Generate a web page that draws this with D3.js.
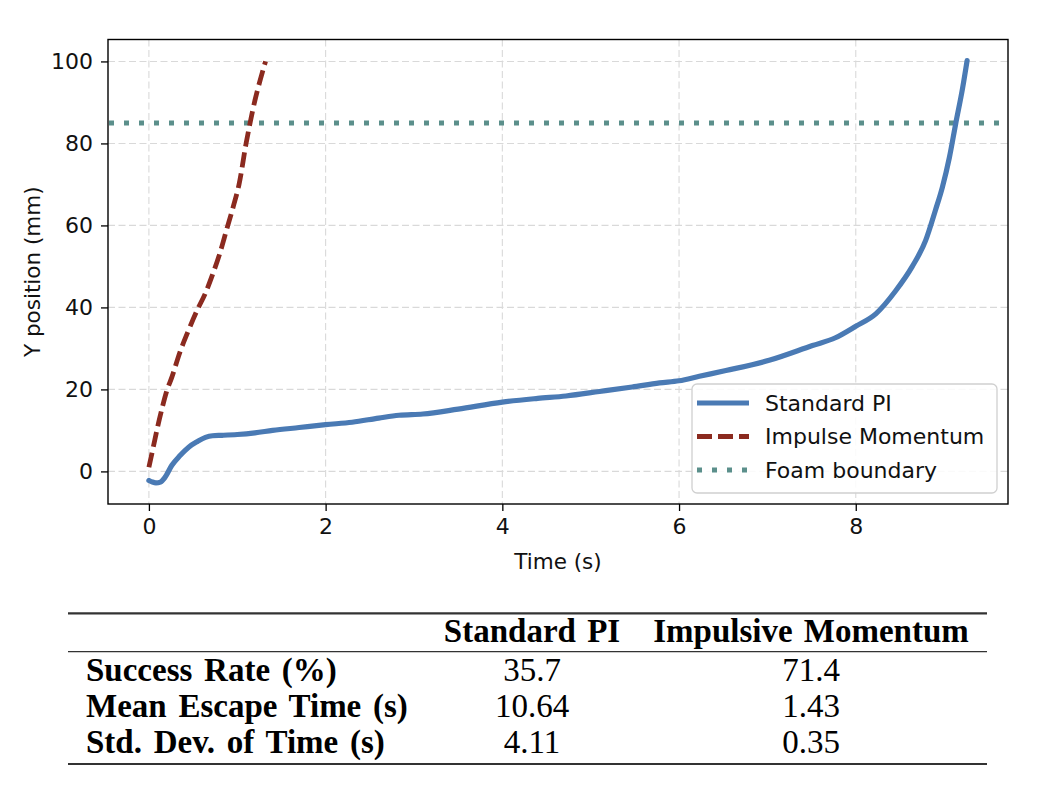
<!DOCTYPE html>
<html>
<head>
<meta charset="utf-8">
<script src="https://cdn.jsdelivr.net/npm/d3@7"></script>
<style>
  body { margin:0; background:#fff; }
</style>
</head>
<body>
<div id="chart"></div>
<script>
/*  Data  */
var stdTime = [0, 0.04, 0.08, 0.13, 0.18, 0.26, 0.35, 0.45, 0.55, 0.64, 0.72, 0.83, 1.0, 1.2, 1.4, 1.7, 2.0, 2.3, 2.6, 2.83, 3.1, 3.5, 4.0, 4.4, 4.72, 5.1, 5.47, 5.78, 6.0, 6.23, 6.53, 7.02, 7.51, 7.77, 8.0, 8.23, 8.45, 8.64, 8.79, 8.9, 8.98, 9.06, 9.13, 9.21, 9.26];
var stdY    = [-2.2, -2.6, -2.8, -2.6, -1.5, 1.5, 3.8, 5.9, 7.3, 8.3, 8.7, 8.8, 9.0, 9.4, 10.0, 10.7, 11.4, 12.0, 13.0, 13.7, 14.0, 15.2, 16.9, 17.8, 18.4, 19.5, 20.6, 21.6, 22.1, 23.2, 24.6, 27.1, 30.7, 32.6, 35.4, 38.5, 44.0, 50.0, 56.3, 63.6, 69.3, 76.6, 84.7, 93.6, 100.2];
var impTime = [0, 0.05, 0.1, 0.15, 0.2, 0.26, 0.35, 0.45, 0.55, 0.64, 0.72, 0.8, 0.88, 0.96, 1.02, 1.1, 1.15, 1.2, 1.26, 1.32];
var impY    = [1, 6, 11, 15.5, 19.5, 23, 29, 34.5, 39.5, 43.5, 48, 53, 59, 65, 70, 80, 85.5, 90.5, 95.5, 100];
var foamY = 85;
var xTicks = [0, 2, 4, 6, 8];
var yTicks = [0, 20, 40, 60, 80, 100];
var legendLabels = ["Standard PI", "Impulse Momentum", "Foam boundary"];

var tableHeader = ["", "Standard PI", "Impulsive Momentum"];
var tableRows = ["Success Rate (%)", "Mean Escape Time (s)", "Std. Dev. of Time (s)"];
var stdStats = ["35.7", "10.64", "4.11"];
var impStats = ["71.4", "1.43", "0.35"];

/*  Useful functions  */
var foreach = function(a, b){ for (var c = 0; c < a.length; c++) b(c, a[c]); };
var SVGElement = function(parent, elname, attributes){
  var el = parent.append(elname);
  for (var k in attributes) el.attr(k, attributes[k]);
  return el;
};

var W = 1046, H = 804;
var box = {left:108, right:1008, top:39.5, bottom:504};
var blue = "#4a7ab4", red = "#8b2a1f", teal = "#5b8f8b";
var sans = "DejaVu Sans, sans-serif";
var serif = "Liberation Serif, Times New Roman, serif";

var svg = d3.select("#chart").append("svg")
            .attr("xmlns", "http://www.w3.org/2000/svg")
            .attr("width", W).attr("height", H);

/*  Scales, matplotlib style 5% margins  */
var allX = stdTime.concat(impTime), allY = stdY.concat(impY);
var xe = d3.extent(allX), ye = d3.extent(allY);
var xm = (xe[1]-xe[0])*0.05, ym = (ye[1]-ye[0])*0.05;
var x = d3.scaleLinear().domain([xe[0]-xm, xe[1]+xm]).range([box.left, box.right]);
var y = d3.scaleLinear().domain([ye[0]-ym, ye[1]+ym]).range([box.bottom, box.top]);

SVGElement(svg, "clipPath", {id:"clip"}).append("rect")
  .attr("x", box.left).attr("y", box.top)
  .attr("width", box.right-box.left).attr("height", box.bottom-box.top);

/*  Grid  */
var grid = svg.append("g").attr("stroke", "#d9d9d9").attr("stroke-width", 1.1).attr("stroke-dasharray", "7,3.5");
foreach(xTicks, function(i, t){
  SVGElement(grid, "line", {x1:x(t), x2:x(t), y1:box.top, y2:box.bottom});
});
foreach(yTicks, function(i, t){
  SVGElement(grid, "line", {x1:box.left, x2:box.right, y1:y(t), y2:y(t)});
});

/*  Series  */
var plot = svg.append("g").attr("clip-path", "url(#clip)");
var line = d3.line().curve(d3.curveMonotoneX)
             .x(function(d){ return x(d[0]); }).y(function(d){ return y(d[1]); });

SVGElement(plot, "line", {x1:box.left+1, x2:box.right, y1:y(foamY), y2:y(foamY),
  stroke:teal, "stroke-width":5, "stroke-dasharray":"5,10"});

plot.append("path")
    .datum(d3.zip(stdTime, stdY))
    .attr("d", line).attr("fill", "none")
    .attr("stroke", blue).attr("stroke-width", 5.2)
    .attr("stroke-linejoin", "round").attr("stroke-linecap", "round");

plot.append("path")
    .datum(d3.zip(impTime, impY))
    .attr("d", line).attr("fill", "none")
    .attr("stroke", red).attr("stroke-width", 4.8)
    .attr("stroke-dasharray", "15,6");

/*  Axes  */
var xAxis = svg.append("g").attr("transform", "translate(0," + box.bottom + ")")
  .call(d3.axisBottom(x).tickValues(xTicks).tickFormat(d3.format("d")).tickSize(7).tickPadding(7));
var yAxis = svg.append("g").attr("transform", "translate(" + box.left + ",0)")
  .call(d3.axisLeft(y).tickValues(yTicks).tickFormat(d3.format("d")).tickSize(7).tickPadding(8));
foreach([xAxis, yAxis], function(i, a){
  a.select(".domain").remove();
  a.selectAll(".tick line").attr("stroke", "#000").attr("stroke-width", 1.3);
  a.selectAll(".tick text").attr("font-family", sans).attr("font-size", 22).attr("fill", "#111");
});

SVGElement(svg, "rect", {x:box.left, y:box.top, width:box.right-box.left, height:box.bottom-box.top,
  fill:"none", stroke:"#000", "stroke-width":1.4});

SVGElement(svg, "text", {x:(box.left+box.right)/2, y:569, "text-anchor":"middle",
  "font-family":sans, "font-size":21.5, fill:"#111"}).text("Time (s)");
SVGElement(svg, "text", {transform:"translate(40," + (box.top+box.bottom)/2 + ") rotate(-90)",
  "text-anchor":"middle", "font-family":sans, "font-size":21.5, fill:"#111"}).text("Y position (mm)");

/*  Legend  */
var lg = svg.append("g");
SVGElement(lg, "rect", {x:692, y:384, width:305, height:109, rx:5,
  fill:"#fff", "fill-opacity":0.85, stroke:"#d0d0d0", "stroke-width":1.3});
var legendStyles = [
  {stroke:blue, "stroke-width":5},
  {stroke:red, "stroke-width":4.8, "stroke-dasharray":"15,6"},
  {stroke:teal, "stroke-width":5, "stroke-dasharray":"5,10"}
];
foreach(legendLabels, function(i, lab){
  var ly = 403 + i*33.5;
  var st = legendStyles[i];
  st.x1 = 697; st.x2 = 749; st.y1 = ly; st.y2 = ly;
  SVGElement(lg, "line", st);
  SVGElement(lg, "text", {x:765, y:ly, dy:"0.36em", "font-family":sans, "font-size":22, fill:"#111"}).text(lab);
});

/*  Table  */
var tb = svg.append("g").attr("font-family", serif).attr("fill", "#000");
var tLeft = 68, tRight = 987;
var colX = [86, 532, 811];
SVGElement(tb, "line", {x1:tLeft, x2:tRight, y1:613.3, y2:613.3, stroke:"#333", "stroke-width":2.2});
SVGElement(tb, "line", {x1:tLeft, x2:tRight, y1:651.7, y2:651.7, stroke:"#333", "stroke-width":1.3});
SVGElement(tb, "line", {x1:tLeft, x2:tRight, y1:764, y2:764, stroke:"#333", "stroke-width":2.2});

foreach(tableHeader, function(i, h){
  if (i === 0) return;
  SVGElement(tb, "text", {x:colX[i], y:641.5, "text-anchor":"middle", "font-weight":"bold",
    "font-size":33, "word-spacing":3}).text(h);
});
foreach(tableRows, function(i, r){
  var by = 681 + i*36;
  SVGElement(tb, "text", {x:colX[0], y:by, "font-weight":"bold", "font-size":33, "word-spacing":3.5}).text(r);
  SVGElement(tb, "text", {x:colX[1], y:by, "text-anchor":"middle", "font-size":33}).text(stdStats[i]);
  SVGElement(tb, "text", {x:colX[2], y:by, "text-anchor":"middle", "font-size":33}).text(impStats[i]);
});
</script>
</body>
</html>
